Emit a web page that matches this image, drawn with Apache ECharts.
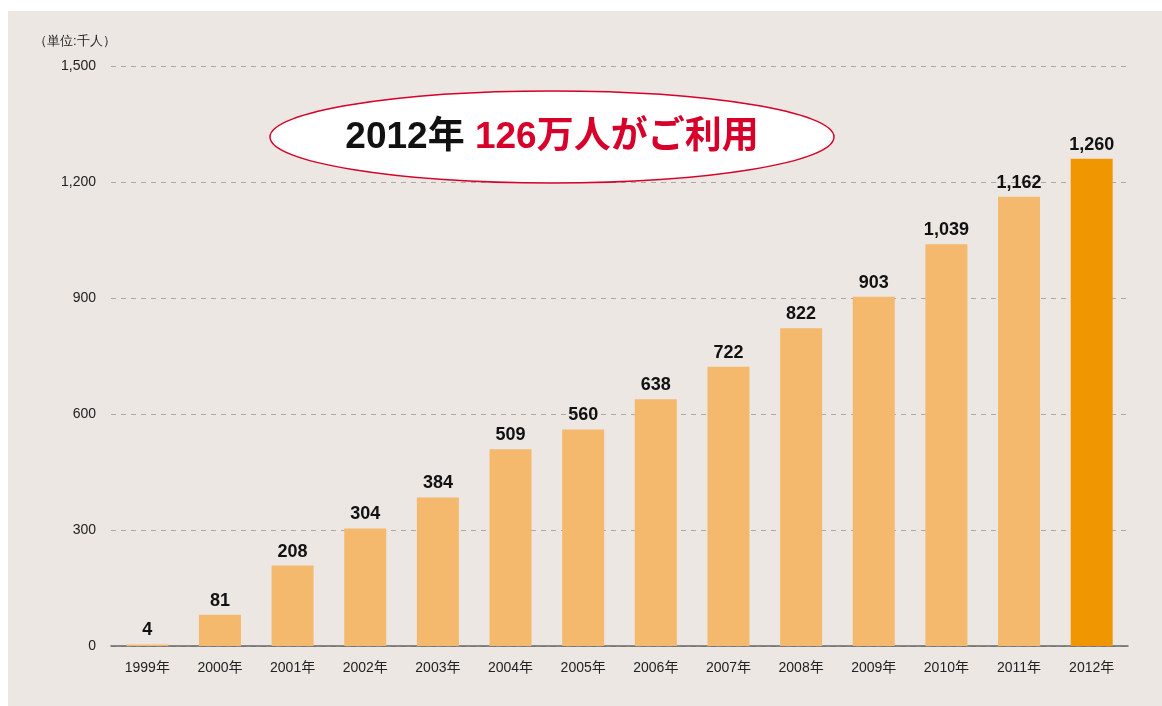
<!DOCTYPE html>
<html><head><meta charset="utf-8">
<script src="https://cdn.jsdelivr.net/npm/echarts@6/dist/echarts.min.js"></script>
<style>
html,body{margin:0;padding:0;background:#fff;}
#bg{position:absolute;left:8px;top:11px;width:1154px;height:695px;background:#ece7e3;}
#c{position:absolute;left:0;top:0;width:1162px;height:706px;}
</style></head><body>
<div id="bg"></div>
<div id="c"></div>
<script>
const categories = ['1999年','2000年','2001年','2002年','2003年','2004年','2005年','2006年','2007年','2008年','2009年','2010年','2011年','2012年'];
const users = [4,81,208,304,384,509,560,638,722,822,903,1039,1162,1260];
const yTicks = [0,300,600,900,1200,1500];
const unitLabel = '（単位:千人）';
const headlineYear = '2012年 ';
const headlineRest = '126万人がご利用';

const font = '"Liberation Sans", Arial, "Noto Sans CJK JP", sans-serif';
const chart = echarts.init(document.getElementById('c'));
const fmt = v => v.toLocaleString('en-US');
chart.setOption({
  backgroundColor: 'transparent',
  animation: false,
  textStyle: {fontFamily: font},
  grid: {left: 111, right: 34, top: 66, bottom: 60, containLabel: false},
  xAxis: {
    type: 'category', data: categories,
    axisLine: {lineStyle: {color: '#666', width: 1.5}},
    axisTick: {show: false},
    axisLabel: {color: '#222', fontSize: 14, margin: 15, fontFamily: font}
  },
  yAxis: {
    type: 'value', min: yTicks[0], max: yTicks[yTicks.length-1], interval: 300,
    axisLine: {show: false}, axisTick: {show: false},
    axisLabel: {color: '#222', fontSize: 14, margin: 15, formatter: v => fmt(v), fontFamily: font},
    splitLine: {lineStyle: {color: '#aaa', type: [5,5], width: 1}}
  },
  series: [{
    type: 'bar', data: users.map((v,i)=>({value:v, itemStyle:{color: i===users.length-1 ? '#ef9600' : '#f4b96c'}})),
    barWidth: 42,
    label: {show: true, position: 'top', distance: 5, color: '#111', fontSize: 18, fontWeight: 'bold', formatter: p => fmt(p.value), fontFamily: font}
  }],
  graphic: [
    {type: 'text', left: 34, top: 35, style: {text: unitLabel, fontSize: 13, fill: '#222', font: '13px "Noto Sans CJK JP"'}},
    {type: 'ellipse', shape: {cx: 552, cy: 137, rx: 282, ry: 46}, style: {fill: '#fff', stroke: '#d7002a', lineWidth: 1.5}, z: 10},
    {type: 'text', x: 552, y: 138, z: 11, style: {
      text: '{a|' + headlineYear + '}{b|' + headlineRest + '}', align: 'center', verticalAlign: 'middle',
      rich: {
        a: {fontSize: 37, fontWeight: 'bold', fill: '#111', fontFamily: font},
        b: {fontSize: 37, fontWeight: 'bold', fill: '#d7002a', fontFamily: font}
      }
    }}
  ]
});
</script>
</body></html>
